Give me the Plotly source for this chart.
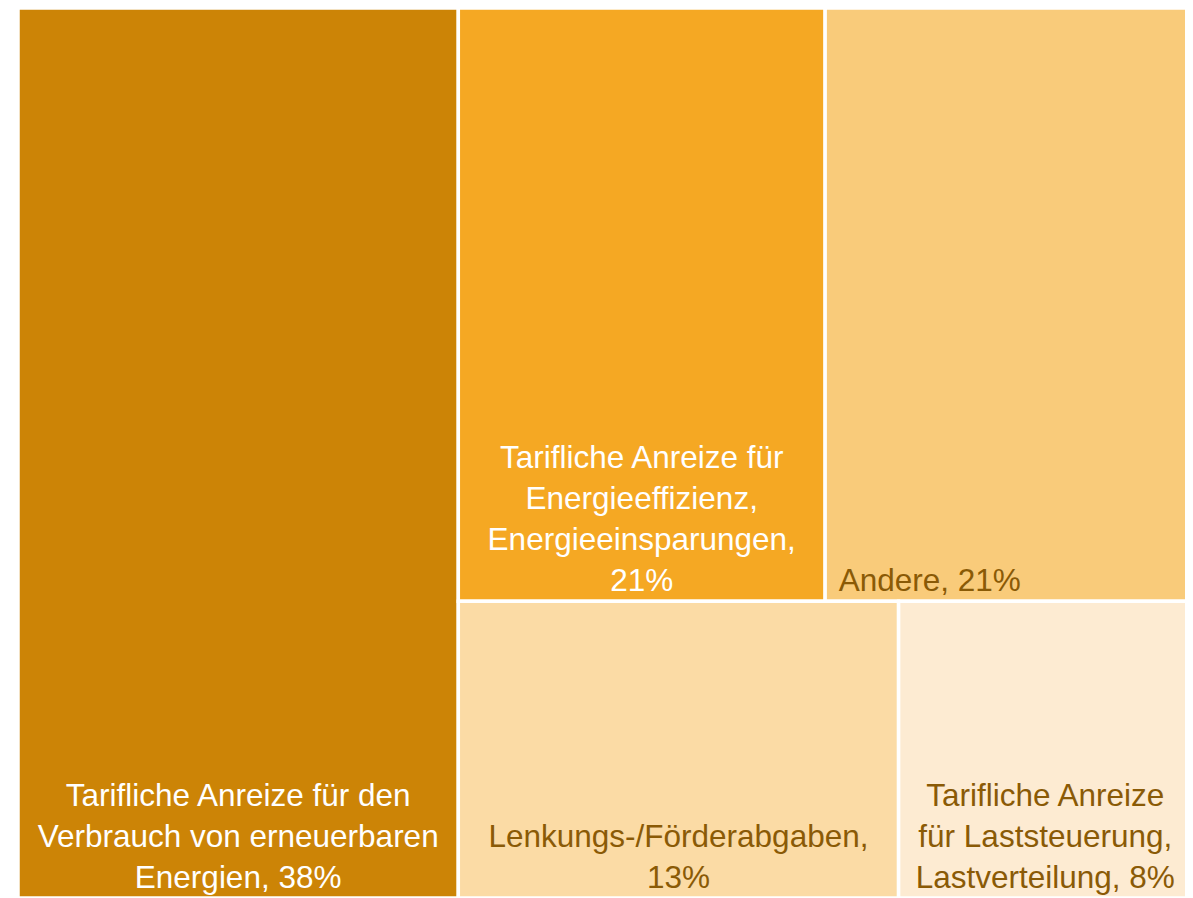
import plotly.graph_objects as go

labels = [
    "Tarifliche Anreize für den Verbrauch von erneuerbaren Energien",
    "Tarifliche Anreize für Energieeffizienz, Energieeinsparungen",
    "Andere",
    "Lenkungs-/Förderabgaben",
    "Tarifliche Anreize für Laststeuerung, Lastverteilung",
]
values = [37.5, 20.83, 20.83, 12.5, 8.33]
display_text = [
    "Tarifliche Anreize für den<br>Verbrauch von erneuerbaren<br>Energien, 38%",
    "Tarifliche Anreize für<br>Energieeffizienz,<br>Energieeinsparungen,<br>21%",
    "Andere, 21%" + "\u00a0" * 18,
    "Lenkungs-/Förderabgaben,<br>13%",
    "Tarifliche Anreize<br>für Laststeuerung,<br>Lastverteilung, 8%",
]
tile_colors = ["#CC8406", "#F5A823", "#F9CB7A", "#FBDBA5", "#FDEBD2"]
text_colors = ["#FFFFFF", "#FFFFFF", "#8A5A06", "#8A5A06", "#8A5A06"]

fig = go.Figure(go.Treemap(
    labels=labels,
    parents=[""] * len(labels),
    values=values,
    text=display_text,
    textinfo="text",
    textposition="bottom center",
    sort=True,
    marker=dict(colors=tile_colors, line=dict(color="white", width=3.5), pad=dict(t=0, l=0, r=0, b=0)),
    insidetextfont=dict(family="Liberation Sans, Arial, sans-serif", size=31.5, color=text_colors),
    tiling=dict(packing="squarify", pad=0),
    pathbar=dict(visible=False),
    root=dict(color="white"),
    hoverinfo="label+value",
))

fig.update_layout(
    width=1185,
    height=890,
    margin=dict(l=10, r=1, t=0, b=0),
    paper_bgcolor="white",
    plot_bgcolor="white",
)

fig.write_html("out.html")
